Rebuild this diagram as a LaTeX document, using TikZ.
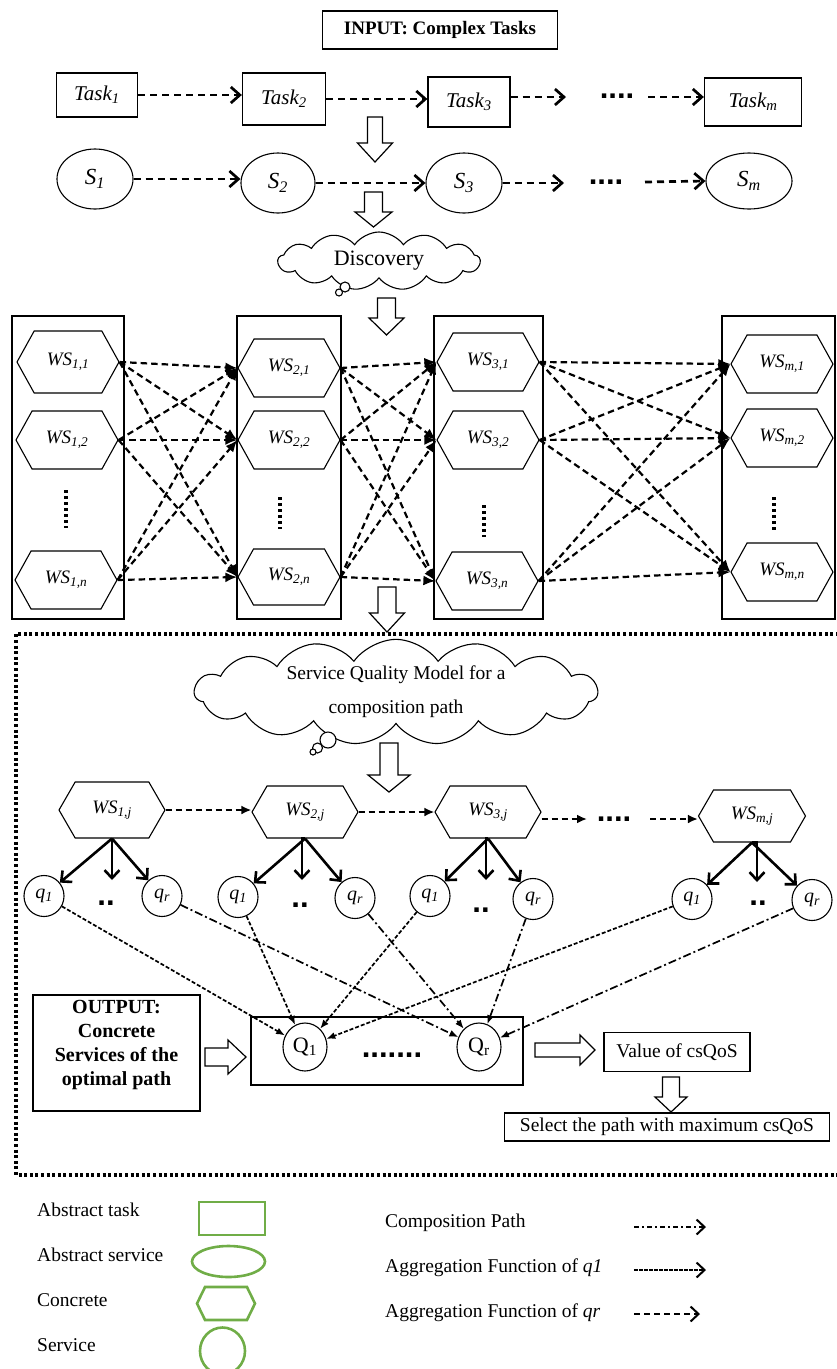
\documentclass[tikz,border=0pt]{standalone}
\usepackage{fontspec}
\setmainfont{Liberation Serif}
\newfontfamily\dotfont{Liberation Sans}
\usetikzlibrary{shapes.geometric,shapes.symbols,arrows.meta}
\definecolor{lgreen}{RGB}{112,173,71}
\newcommand\hdown[6]{% x, ytop, yhead, ytip, shaft half, head half
  \draw[hollow] ({#1-#5},#2) -- ({#1+#5},#2) -- ({#1+#5},#3) -- ({#1+#6},#3) -- (#1,#4) -- ({#1-#6},#3) -- ({#1-#5},#3) -- cycle;}
\newcommand\hright[6]{% y, xleft, xhead, xtip, shaft half, head half
  \draw[hollow] (#2,{#1-#5}) -- (#3,{#1-#5}) -- (#3,{#1-#6}) -- (#4,#1) -- (#3,{#1+#6}) -- (#3,{#1+#5}) -- (#2,{#1+#5}) -- cycle;}
\begin{document}
\begin{tikzpicture}[x=1pt,y=-1pt,
  hollow/.style={draw, line width=1.2pt, fill=white},
  plainbox/.style={draw, line width=1.3pt, inner sep=0pt},
  taskn/.style={plainbox, font=\fontsize{21}{25}\itshape\selectfont},
  absn/.style={ellipse, draw, line width=1.1pt, inner sep=0pt, minimum width=76pt, minimum height=60pt, font=\fontsize{23}{27}\itshape\selectfont},
  hexn/.style={signal, signal to=east and west, signal pointer angle=122, draw, line width=1.1pt, inner sep=0pt, minimum width=102pt, minimum height=58pt, font=\fontsize{19}{23}\itshape\selectfont},
  colbox/.style={draw, line width=1.3pt, inner sep=0pt},
  qn/.style={ellipse, draw, line width=1.1pt, inner sep=0pt, minimum width=40pt, minimum height=41pt, font=\fontsize{20}{24}\itshape\selectfont},
  bigQ/.style={ellipse, draw, line width=1.1pt, inner sep=0pt, minimum width=44pt, minimum height=48pt, font=\fontsize{22}{26}\selectfont},
  cloudn/.style={cloud, cloud ignores aspect, draw, line width=1.1pt, cloud puffs=13, cloud puff arc=110, inner sep=0pt},
  bubble/.style={draw, line width=1.1pt, fill=white},
  dotsn/.style={inner sep=0pt, anchor=base, font=\fontsize{31}{31}\dotfont\bfseries\selectfont},
  vdots/.style={line width=3.5pt, dash pattern=on 3.2pt off 2.8pt},
  toparr/.style={line width=2.7pt, dash pattern=on 7pt off 5pt, -{Straight Barb[length=9pt,width=16pt]}},
  midarr/.style={line width=2.2pt, dash pattern=on 6.5pt off 4pt, -{Latex[length=12pt,width=10pt]}},
  chainarr/.style={line width=2.2pt, dash pattern=on 6pt off 4pt, -{Latex[length=10pt,width=9pt]}},
  fanarr/.style={line width=2.6pt, -{Straight Barb[length=8pt,width=15pt]}},
  aggone/.style={line width=1.7pt, dash pattern=on 4pt off 2pt, -{Latex[length=9pt,width=7pt]}},
  aggr/.style={line width=1.7pt, dash pattern=on 8pt off 3pt on 2pt off 3pt, -{Latex[length=9pt,width=7pt]}},
  frame/.style={line width=4pt, dash pattern=on 3pt off 2.6pt},
  txt/.style={inner sep=0pt, font=\fontsize{19.5}{23}\selectfont},
  lgshape/.style={draw=lgreen, line width=2.6pt, inner sep=0pt},
  legarr/.style={line width=2pt, -{Straight Barb[length=8pt,width=15pt]}}
]
\useasboundingbox (0,0) rectangle (836,1369);

% ---------- top ----------
\node[plainbox, minimum width=235pt, minimum height=38pt, font=\fontsize{19}{23}\bfseries\selectfont] (input) at (440,30) {INPUT: Complex Tasks};

\node[taskn, minimum width=81pt, minimum height=44pt] (t1) at (97,95) {Task\textsubscript{1}};
\node[taskn, minimum width=83pt, minimum height=52pt] (t2) at (284,99) {Task\textsubscript{2}};
\node[taskn, minimum width=82pt, minimum height=50pt] (t3) at (469,102) {Task\textsubscript{3}};
\node[taskn, minimum width=97pt, minimum height=48pt] (tm) at (753,102) {Task\textsubscript{m}};
\coordinate (t3x) at (566,97);
\coordinate (tmx) at (648,97);
\node[dotsn] (tdots) at (617,98.5) {....};
\draw[toparr] (t1.east) -- (t1.east -| t2.west);
\draw[toparr] (t2.east) -- (t2.east -| t3.west);
\draw[toparr] (t3.east |- t3x) -- (t3x);
\draw[toparr] (tmx) -- (tmx -| tm.west);

\hdown{375}{117}{143}{162}{7.5}{17.5}

\node[absn] (s1) at (95,179) {S\textsubscript{1}};
\node[absn, minimum width=74pt] (s2) at (278,183) {S\textsubscript{2}};
\node[absn] (s3) at (464,183) {S\textsubscript{3}};
\node[absn, minimum width=86pt, minimum height=56pt] (sm) at (749,181) {S\textsubscript{m}};
\coordinate (s3x) at (564,183);
\coordinate (smx) at (645,182);
\node[dotsn] (sdots) at (606,184.5) {....};
\draw[toparr] (s1.east) -- (s1.east -| s2.west);
\draw[toparr] (s2.east) -- (s2.east -| s3.west);
\draw[toparr] (s3.east) -- (s3x);
\draw[toparr] (smx) -- (sm.west);

\hdown{373.5}{192}{212}{227}{9}{18.5}

\node[cloudn, minimum width=202pt, minimum height=58pt, font=\fontsize{22}{26}\selectfont] (disc) at (379,261) {Discovery};
\draw[bubble] (345,287) circle[radius=5pt];
\draw[bubble] (339,292.5) circle[radius=3.5pt];

\hdown{386.5}{298}{318}{335}{9}{17.5}

% ---------- concrete services ----------
\node[colbox, minimum width=112pt, minimum height=303pt] (c1) at (68,467.5) {};
\node[colbox, minimum width=104pt, minimum height=303pt] (c2) at (289,467.5) {};
\node[colbox, minimum width=109pt, minimum height=303pt] (c3) at (488.5,467.5) {};
\node[colbox, minimum width=113pt, minimum height=303pt] (cm) at (778.5,467.5) {};

\node[hexn, minimum height=62pt] (w11) at (68,362) {WS\textsubscript{1,1}};
\node[hexn] (w12) at (67,440) {WS\textsubscript{1,2}};
\node[hexn] (w1n) at (66,580) {WS\textsubscript{1,n}};
\node[hexn] (w21) at (289,368) {WS\textsubscript{2,1}};
\node[hexn] (w22) at (289,440) {WS\textsubscript{2,2}};
\node[hexn, minimum height=56pt] (w2n) at (289,577) {WS\textsubscript{2,n}};
\node[hexn] (w31) at (488,362) {WS\textsubscript{3,1}};
\node[hexn] (w32) at (488,440) {WS\textsubscript{3,2}};
\node[hexn] (w3n) at (487,581) {WS\textsubscript{3,n}};
\node[hexn] (wm1) at (782,364) {WS\textsubscript{m,1}};
\node[hexn] (wm2) at (782,438) {WS\textsubscript{m,2}};
\node[hexn] (wmn) at (782,572) {WS\textsubscript{m,n}};

\draw[vdots] (66,490) -- (66,528);
\draw[vdots] (280,497) -- (280,529);
\draw[vdots] (484,505) -- (484,537);
\draw[vdots] (774,497) -- (774,530);

\foreach \a in {w11,w12,w1n} \foreach \b in {w21,w22,w2n} \draw[midarr] (\a.east) -- (\b.west);
\foreach \a in {w21,w22,w2n} \foreach \b in {w31,w32,w3n} \draw[midarr] (\a.east) -- (\b.west);
\foreach \a in {w31,w32,w3n} \foreach \b in {wm1,wm2,wmn} \draw[midarr] (\a.east) -- (\b.west);

\hdown{387}{587}{613}{632}{9}{17.5}

% ---------- dotted frame ----------
\draw[frame] (850,634) -- (16,634) -- (16,1175) -- (850,1175);

\node[cloudn, cloud puffs=15, minimum width=403pt, minimum height=101pt, align=center, font=\fontsize{19.5}{34}\selectfont] (sqm) at (396,692) {Service Quality Model for a\\composition path};
\draw[bubble] (328,740) circle[radius=8pt];
\draw[bubble] (317.5,748) circle[radius=5pt];
\draw[bubble] (313,752) circle[radius=3pt];

\hdown{389}{743}{775}{792}{9}{21}

\node[hexn, signal pointer angle=120, minimum width=106pt, minimum height=56pt] (wj1) at (112,810) {WS\textsubscript{1,j}};
\node[hexn, signal pointer angle=120, minimum width=106pt, minimum height=52pt] (wj2) at (305,812) {WS\textsubscript{2,j}};
\node[hexn, signal pointer angle=120, minimum width=106pt, minimum height=52pt] (wj3) at (488,812) {WS\textsubscript{3,j}};
\node[hexn, signal pointer angle=120, minimum width=107pt, minimum height=52pt] (wjm) at (752,816) {WS\textsubscript{m,j}};
\coordinate (wj3x) at (587,819);
\coordinate (wjmx) at (650,819);
\node[dotsn] (wdots) at (614,821.5) {....};
\draw[chainarr] (wj1.east) -- (wj1.east -| wj2.west);
\draw[chainarr] (wj2.east) -- (wj2.east -| wj3.west);
\draw[chainarr] (wj3.east |- wj3x) -- (wj3x);
\draw[chainarr] (wjmx) -- (wjmx -| wjm.west);

\node[qn] (q11) at (44,896) {q\textsubscript{1}};
\node[qn] (q1r) at (162,896) {q\textsubscript{r}};
\node[qn] (q21) at (238,897) {q\textsubscript{1}};
\node[qn] (q2r) at (355,898) {q\textsubscript{r}};
\node[qn] (q31) at (430,896) {q\textsubscript{1}};
\node[qn] (q3r) at (533,899) {q\textsubscript{r}};
\node[qn] (qm1) at (692,899) {q\textsubscript{1}};
\node[qn] (qmr) at (812,900) {q\textsubscript{r}};
\node[dotsn] (qd1) at (106,905.5) {..};
\node[dotsn] (qd2) at (300,907.5) {..};
\node[dotsn] (qd3) at (481,912.5) {..};
\node[dotsn] (qdm) at (758,905.5) {..};
\coordinate (m1) at (112,880);
\coordinate (m2) at (302,880);
\coordinate (m3) at (486,880);
\coordinate (mm) at (757,882);

\foreach \w/\a/\m/\b in {wj1/q11/m1/q1r, wj2/q21/m2/q2r, wj3/q31/m3/q3r, wjm/qm1/mm/qmr}{
  \draw[fanarr] (\w.south) -- (\a);
  \draw[fanarr] (\w.south) -- (\w.south -| \m) -- (\m);
  \draw[fanarr] (\w.south) -- (\b);
}

% ---------- aggregation ----------
\node[plainbox, minimum width=272pt, minimum height=68pt] (qbox) at (387,1051) {};
\node[bigQ] (Q1) at (305,1047) {Q\textsubscript{1}};
\node[bigQ] (Qr) at (479,1047) {Q\textsubscript{r}};
\node[dotsn] (Qdots) at (392,1057.5) {.......};

\foreach \s in {q11,q21,q31,qm1} \draw[aggone] (\s) -- (Q1);
\foreach \s in {q1r,q2r,q3r,qmr} \draw[aggr] (\s) -- (Qr);

\node[plainbox, minimum width=167pt, minimum height=116pt] (outbox) at (116.5,1053) {};
\node[inner sep=0pt, align=center, font=\fontsize{20}{24}\bfseries\selectfont] (outtxt) at (116.5,1045) {OUTPUT:\\Concrete\\Services of the\\optimal path};

\hright{1057}{205}{228}{246}{9}{17}
\hright{1050}{535}{580}{595}{7}{15}

\node[plainbox, minimum width=146pt, minimum height=39pt, font=\fontsize{19.5}{23}\selectfont] (value) at (677,1052) {Value of csQoS};
\hdown{671}{1077}{1097}{1112}{8.5}{16}
\node[plainbox, minimum width=325pt, minimum height=28pt, font=\fontsize{19.5}{23}\selectfont] (select) at (667,1127) {Select the path with maximum csQoS};

% ---------- legend ----------
\node[txt, anchor=west] (l1) at (37,1210) {Abstract task};
\node[txt, anchor=west] (l2) at (37,1255) {Abstract service};
\node[txt, anchor=west] (l3) at (37,1300) {Concrete};
\node[txt, anchor=west] (l4) at (37,1345) {Service};
\node[lgshape, minimum width=66pt, minimum height=33pt] (lg1) at (232,1218.5) {};
\node[lgshape, ellipse, minimum width=73pt, minimum height=31pt] (lg2) at (228.5,1261.5) {};
\node[lgshape, signal, signal to=east and west, signal pointer angle=128, minimum width=58pt, minimum height=33pt] (lg3) at (226,1303.5) {};
\node[lgshape, ellipse, minimum width=45pt, minimum height=47pt] (lg4) at (222.5,1351) {};

\node[txt, anchor=west] (l5) at (385,1223) {Composition Path};
\node[txt, anchor=west] (l6) at (385,1268) {Aggregation Function of \textit{q1}};
\node[txt, anchor=west] (l7) at (385,1313) {Aggregation Function of \textit{qr}};
\coordinate (la1) at (634,1227); \coordinate (lb1) at (706,1227);
\coordinate (la2) at (634,1270); \coordinate (lb2) at (706,1270);
\coordinate (la3) at (634,1314); \coordinate (lb3) at (700,1314);
\draw[legarr, dash pattern=on 5pt off 3pt on 2pt off 3pt] (la1) -- (lb1);
\draw[legarr, dash pattern=on 3.5pt off 1.5pt] (la2) -- (lb2);
\draw[legarr, dash pattern=on 6pt off 4pt] (la3) -- (lb3);
\end{tikzpicture}
\end{document}
